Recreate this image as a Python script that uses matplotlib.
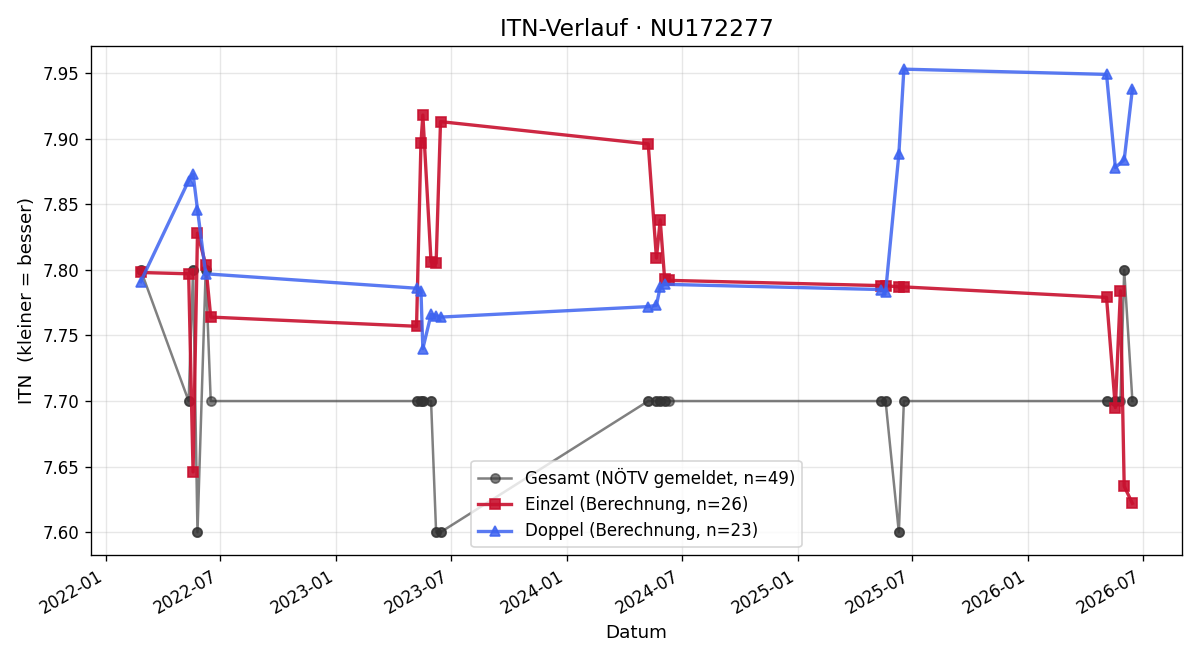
import numpy as np
import pandas as pd
import matplotlib
matplotlib.use("Agg")
import matplotlib.pyplot as plt
import matplotlib.dates as mdates

einzel_dates = [
    "2022-02-25", "2022-05-12", "2022-05-19", "2022-05-26", "2022-06-08", "2022-06-16",
    "2023-05-08", "2023-05-15", "2023-05-18", "2023-05-31", "2023-06-08", "2023-06-15",
    "2024-05-09", "2024-05-22", "2024-05-28", "2024-06-04", "2024-06-11",
    "2025-05-13", "2025-05-20", "2025-06-10", "2025-06-18",
    "2026-05-05", "2026-05-19", "2026-05-27", "2026-06-02", "2026-06-15",
]
einzel_itn = [
    7.798, 7.797, 7.646, 7.828, 7.804, 7.764,
    7.757, 7.897, 7.918, 7.806, 7.805, 7.913,
    7.896, 7.809, 7.838, 7.793, 7.792,
    7.788, 7.788, 7.787, 7.787,
    7.779, 7.695, 7.784, 7.635, 7.622,
]

doppel_dates = [
    "2022-02-25", "2022-05-12", "2022-05-19", "2022-05-26", "2022-06-08",
    "2023-05-08", "2023-05-15", "2023-05-18", "2023-05-31", "2023-06-08", "2023-06-15",
    "2024-05-09", "2024-05-22", "2024-05-28", "2024-06-04",
    "2025-05-13", "2025-05-20", "2025-06-10", "2025-06-18",
    "2026-05-05", "2026-05-19", "2026-06-02", "2026-06-15",
]
doppel_itn = [
    7.791, 7.868, 7.873, 7.846, 7.797,
    7.786, 7.784, 7.740, 7.766, 7.765, 7.764,
    7.772, 7.773, 7.787, 7.789,
    7.785, 7.783, 7.888, 7.953,
    7.949, 7.878, 7.884, 7.938,
]

gesamt_dates = [
    "2022-02-25", "2022-02-25", "2022-05-12", "2022-05-12", "2022-05-19", "2022-05-19",
    "2022-05-26", "2022-05-26", "2022-06-08", "2022-06-08", "2022-06-16",
    "2023-05-08", "2023-05-08", "2023-05-15", "2023-05-15", "2023-05-18", "2023-05-18",
    "2023-05-31", "2023-05-31", "2023-06-08", "2023-06-08", "2023-06-15", "2023-06-15",
    "2024-05-09", "2024-05-09", "2024-05-22", "2024-05-22", "2024-05-28", "2024-05-28",
    "2024-06-04", "2024-06-04", "2024-06-11",
    "2025-05-13", "2025-05-13", "2025-05-20", "2025-05-20", "2025-06-10", "2025-06-10",
    "2025-06-18", "2025-06-18",
    "2026-05-05", "2026-05-05", "2026-05-19", "2026-05-19", "2026-05-27",
    "2026-06-02", "2026-06-02", "2026-06-15", "2026-06-15",
]
gesamt_itn = [
    7.8, 7.8, 7.7, 7.7, 7.8, 7.8,
    7.6, 7.6, 7.8, 7.8, 7.7,
    7.7, 7.7, 7.7, 7.7, 7.7, 7.7,
    7.7, 7.7, 7.6, 7.6, 7.6, 7.6,
    7.7, 7.7, 7.7, 7.7, 7.7, 7.7,
    7.7, 7.7, 7.7,
    7.7, 7.7, 7.7, 7.7, 7.6, 7.6,
    7.7, 7.7,
    7.7, 7.7, 7.7, 7.7, 7.7,
    7.8, 7.8, 7.7, 7.7,
]

fig, ax = plt.subplots(figsize=(10, 5.5), dpi=120)

ax.plot(pd.to_datetime(gesamt_dates), gesamt_itn, marker="o", ms=5.5, lw=1.5,
        color="#333333", alpha=0.62,
        label=f"Gesamt (NÖTV gemeldet, n={len(gesamt_itn)})")
ax.plot(pd.to_datetime(einzel_dates), einzel_itn, marker="s", ms=6.5, lw=2,
        color="#c8102e", alpha=0.9,
        label=f"Einzel (Berechnung, n={len(einzel_itn)})")
ax.plot(pd.to_datetime(doppel_dates), doppel_itn, marker="^", ms=6.5, lw=2,
        color="#3d63f0", alpha=0.85,
        label=f"Doppel (Berechnung, n={len(doppel_itn)})")

ax.set_title("ITN-Verlauf · NU172277", fontsize=14)
ax.set_xlabel("Datum", fontsize=11)
ax.set_ylabel("ITN  (kleiner = besser)", fontsize=11)
ax.xaxis.set_major_locator(mdates.MonthLocator(bymonth=[1, 7]))
ax.xaxis.set_major_formatter(mdates.DateFormatter("%Y-%m"))
ax.grid(True, alpha=0.3)
ax.legend(loc="lower center")
fig.autofmt_xdate()
fig.tight_layout()
fig.savefig("out.png")
